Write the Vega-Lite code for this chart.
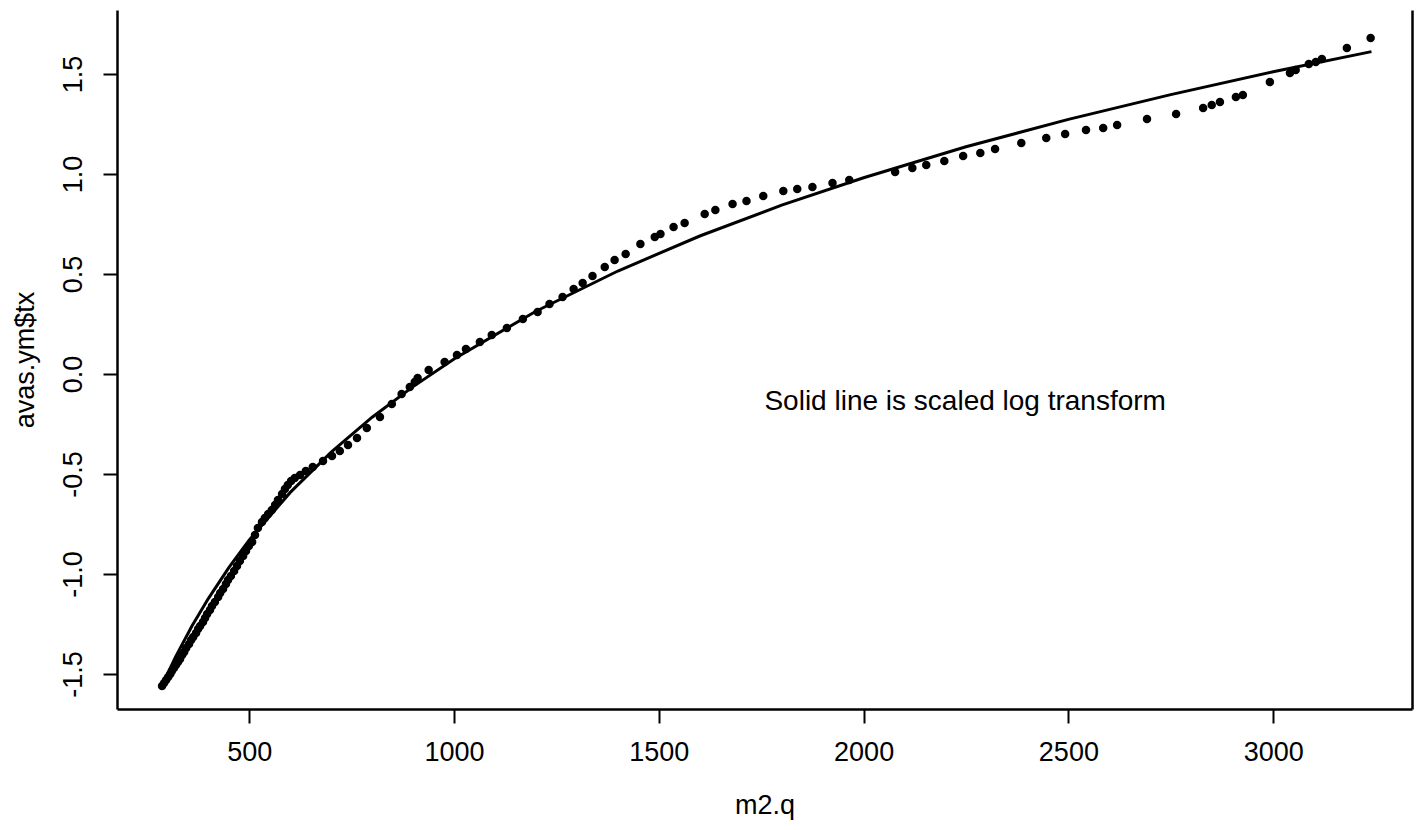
{
 "$schema": "https://vega.github.io/schema/vega-lite/v6.json",
 "width": 1295,
 "height": 699,
 "autosize": {"type": "none"},
 "padding": {"left": 117, "top": 10, "right": 14, "bottom": 121},
 "background": "white",
 "config": {
  "view": {"stroke": null},
  "font": "Liberation Sans",
  "axis": {
   "domainColor": "black", "domainWidth": 2.5, "tickColor": "black", "tickWidth": 2, "tickSize": 14,
   "labelFont": "Liberation Sans", "labelFontSize": 27, "labelColor": "black",
   "titleFont": "Liberation Sans", "titleFontSize": 27, "titleColor": "black", "titleFontWeight": "normal",
   "grid": false, "labelFlush": false, "labelOverlap": false
  }
 },
 "datasets": {
  "pts": [
   {"x":287,"y":-1.56},{"x":292,"y":-1.545},{"x":297,"y":-1.53},{"x":302,"y":-1.515},{"x":307,"y":-1.5},{"x":311,"y":-1.485},{"x":316,"y":-1.47},{"x":321,"y":-1.455},{"x":326,"y":-1.44},{"x":331,"y":-1.425},{"x":336,"y":-1.405},{"x":341,"y":-1.39},{"x":346,"y":-1.37},{"x":353,"y":-1.35},{"x":358,"y":-1.33},{"x":363,"y":-1.315},{"x":370,"y":-1.295},{"x":375,"y":-1.275},{"x":380,"y":-1.26},{"x":387,"y":-1.24},{"x":392,"y":-1.22},{"x":397,"y":-1.2},{"x":404,"y":-1.18},{"x":409,"y":-1.16},{"x":416,"y":-1.14},{"x":424,"y":-1.115},{"x":429,"y":-1.095},{"x":436,"y":-1.075},{"x":443,"y":-1.05},{"x":448,"y":-1.03},{"x":455,"y":-1.01},{"x":463,"y":-0.985},{"x":470,"y":-0.96},{"x":477,"y":-0.935},{"x":485,"y":-0.91},{"x":492,"y":-0.885},{"x":499,"y":-0.86},{"x":507,"y":-0.84},{"x":514,"y":-0.805},{"x":521,"y":-0.77},{"x":531,"y":-0.74},{"x":538,"y":-0.72},{"x":546,"y":-0.7},{"x":555,"y":-0.68},{"x":563,"y":-0.655},{"x":570,"y":-0.63},{"x":580,"y":-0.6},{"x":587,"y":-0.575},{"x":594,"y":-0.555},{"x":602,"y":-0.535},{"x":611,"y":-0.52},{"x":624,"y":-0.505},{"x":638,"y":-0.485},{"x":655,"y":-0.465},{"x":680,"y":-0.435},{"x":702,"y":-0.41},{"x":721,"y":-0.385},{"x":741,"y":-0.355},{"x":763,"y":-0.32},{"x":787,"y":-0.27},{"x":819,"y":-0.215},{"x":848,"y":-0.15},{"x":872,"y":-0.1},{"x":892,"y":-0.065},{"x":904,"y":-0.04},{"x":911,"y":-0.02},{"x":938,"y":0.02},{"x":977,"y":0.06},{"x":1007,"y":0.095},{"x":1029,"y":0.125},{"x":1063,"y":0.16},{"x":1092,"y":0.195},{"x":1129,"y":0.23},{"x":1168,"y":0.275},{"x":1204,"y":0.31},{"x":1233,"y":0.35},{"x":1265,"y":0.385},{"x":1292,"y":0.425},{"x":1314,"y":0.455},{"x":1338,"y":0.49},{"x":1368,"y":0.535},{"x":1392,"y":0.57},{"x":1419,"y":0.6},{"x":1455,"y":0.65},{"x":1490,"y":0.685},{"x":1504,"y":0.7},{"x":1536,"y":0.735},{"x":1563,"y":0.755},{"x":1612,"y":0.8},{"x":1638,"y":0.82},{"x":1680,"y":0.85},{"x":1714,"y":0.865},{"x":1755,"y":0.89},{"x":1804,"y":0.915},{"x":1838,"y":0.925},{"x":1875,"y":0.935},{"x":1924,"y":0.955},{"x":1965,"y":0.97},{"x":2077,"y":1.01},{"x":2119,"y":1.03},{"x":2153,"y":1.045},{"x":2197,"y":1.065},{"x":2243,"y":1.09},{"x":2285,"y":1.105},{"x":2321,"y":1.125},{"x":2385,"y":1.155},{"x":2446,"y":1.18},{"x":2492,"y":1.2},{"x":2543,"y":1.22},{"x":2585,"y":1.23},{"x":2619,"y":1.245},{"x":2692,"y":1.275},{"x":2763,"y":1.3},{"x":2829,"y":1.33},{"x":2850,"y":1.345},{"x":2870,"y":1.36},{"x":2909,"y":1.385},{"x":2926,"y":1.395},{"x":2992,"y":1.46},{"x":3041,"y":1.505},{"x":3055,"y":1.52},{"x":3087,"y":1.55},{"x":3104,"y":1.56},{"x":3119,"y":1.575},{"x":3180,"y":1.63},{"x":3238,"y":1.68}
  ],
  "fit": [
   {"x":287,"y":-1.557},{"x":320,"y":-1.414},{"x":360,"y":-1.26},{"x":400,"y":-1.123},{"x":450,"y":-0.968},{"x":500,"y":-0.83},{"x":600,"y":-0.592},{"x":700,"y":-0.391},{"x":800,"y":-0.216},{"x":900,"y":-0.063},{"x":1000,"y":0.075},{"x":1200,"y":0.314},{"x":1400,"y":0.515},{"x":1600,"y":0.69},{"x":1800,"y":0.844},{"x":2000,"y":0.981},{"x":2250,"y":1.136},{"x":2500,"y":1.273},{"x":2750,"y":1.397},{"x":3000,"y":1.511},{"x":3240,"y":1.612}
  ],
  "note": [{"x":2248,"y":-0.14,"label":"Solid line is scaled log transform"}]
 },
 "resolve": {"axis": {"y": "independent"}},
 "layer": [
  {
   "data": {"name": "pts"},
   "mark": {"type": "point", "filled": true, "shape": "circle", "size": 72, "color": "black", "opacity": 1},
   "encoding": {
    "x": {"field": "x", "type": "quantitative", "scale": {"domain": [177, 3339], "nice": false, "zero": false},
          "axis": {"title": "m2.q", "values": [500,1000,1500,2000,2500,3000], "format": "d", "labelPadding": 16, "titlePadding": 27}},
    "y": {"field": "y", "type": "quantitative", "scale": {"domain": [-1.675, 1.82], "nice": false, "zero": false},
          "axis": {"title": "avas.ym$tx", "values": [-1.5,-1,-0.5,0,0.5,1,1.5], "labelAngle": -90, "labelAlign": "center", "labelBaseline": "bottom", "labelPadding": 16, "titlePadding": 20,
                   "labelExpr": "replace(format(datum.value, '.1f'), '\u2212', '-')"}}
   }
  },
  {
   "data": {"name": "fit"},
   "mark": {"type": "line", "color": "black", "strokeWidth": 3},
   "encoding": {
    "x": {"field": "x", "type": "quantitative", "scale": {"domain": [177, 3339], "nice": false, "zero": false},
          "axis": {"title": "m2.q", "values": [500,1000,1500,2000,2500,3000], "format": "d", "labelPadding": 16, "titlePadding": 27}},
    "y": {"field": "y", "type": "quantitative", "scale": {"domain": [-1.675, 1.82], "nice": false, "zero": false},
          "axis": {"orient": "right", "title": null, "labels": false, "ticks": false}}
   }
  },
  {
   "data": {"name": "note"},
   "mark": {"type": "text", "font": "Liberation Sans", "fontSize": 28, "color": "black", "align": "center", "baseline": "middle"},
   "encoding": {
    "x": {"field": "x", "type": "quantitative", "scale": {"domain": [177, 3339], "nice": false, "zero": false},
          "axis": {"title": "m2.q", "values": [500,1000,1500,2000,2500,3000], "format": "d", "labelPadding": 16, "titlePadding": 27}},
    "y": {"field": "y", "type": "quantitative", "scale": {"domain": [-1.675, 1.82], "nice": false, "zero": false}, "axis": null},
    "text": {"field": "label"}
   }
  }
 ]
}
